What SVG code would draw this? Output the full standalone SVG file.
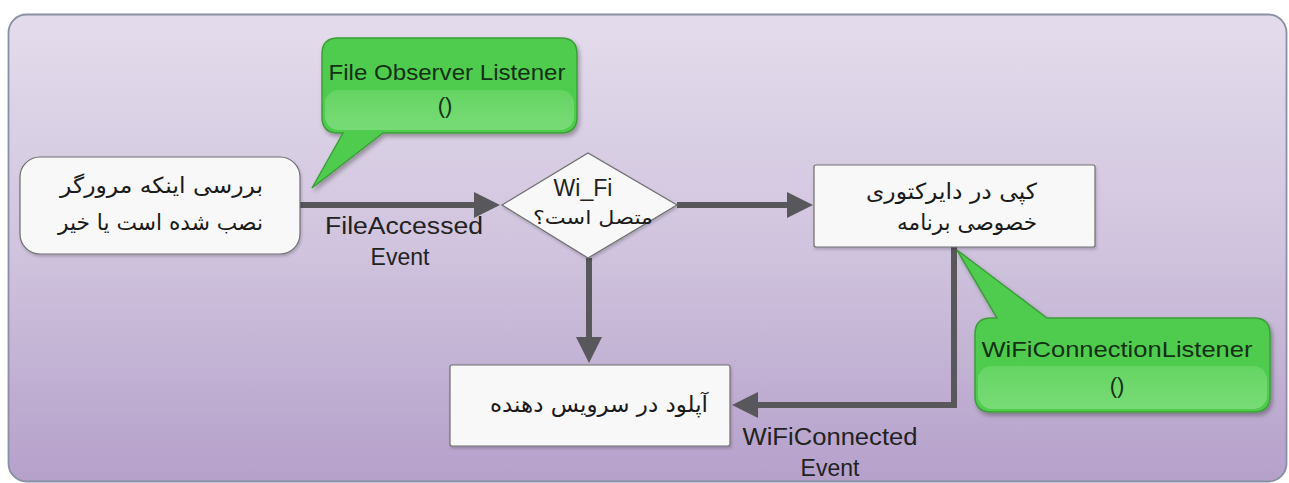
<svg xmlns="http://www.w3.org/2000/svg" width="1289" height="483" viewBox="0 0 1289 483">
  <defs>
    <linearGradient id="bg" x1="0" y1="0" x2="0" y2="1">
      <stop offset="0" stop-color="#e4dcec"/>
      <stop offset="0.5" stop-color="#d0c4de"/>
      <stop offset="1" stop-color="#b5a0ca"/>
    </linearGradient>
    <linearGradient id="glossGrad" x1="0" y1="0" x2="0" y2="1">
      <stop offset="0" stop-color="#a4eca2" stop-opacity="0.25"/>
      <stop offset="1" stop-color="#9ae898" stop-opacity="0.55"/>
    </linearGradient>
    <filter id="shadow" x="-10%" y="-10%" width="130%" height="140%">
      <feDropShadow dx="2" dy="3" stdDeviation="2" flood-color="#000" flood-opacity="0.3"/>
    </filter>
    <filter id="soft" x="-10%" y="-10%" width="130%" height="140%">
      <feDropShadow dx="1" dy="2" stdDeviation="1.5" flood-color="#000" flood-opacity="0.2"/>
    </filter>
    <marker id="arrow" markerUnits="userSpaceOnUse" markerWidth="26" markerHeight="26" refX="0" refY="13" orient="auto">
      <path d="M0,0 L26,13 L0,26 Z" fill="#58585c"/>
    </marker>
  </defs>
  <style>
    .node { fill: #f8f8f8; stroke: #6e6e6e; stroke-width: 1.2; }
    .fa { font-family: "DejaVu Sans", sans-serif; font-size: 22px; fill: #1a1a1a; }
    .fa-s { font-family: "DejaVu Sans", sans-serif; font-size: 19px; fill: #1a1a1a; }
    .lbl { font-family: "Liberation Sans", Arial, sans-serif; font-size: 23px; fill: #222; }
    .callout { fill: #50cc4e; stroke: #3c9e3a; stroke-width: 1.5; }
    .gloss { fill: url(#glossGrad); }
    .ctext { font-family: "Liberation Sans", Arial, sans-serif; font-size: 22px; fill: #143014; }
    .conn { fill: none; stroke: #58585c; stroke-width: 6; }
  </style>

  <rect id="background" x="8.5" y="14.5" width="1278" height="467" rx="18" fill="url(#bg)" stroke="#8890a4" stroke-width="1.8"/>

  <g id="connectors">
    <line class="conn" x1="300" y1="205" x2="474" y2="205" marker-end="url(#arrow)"/>
    <line class="conn" x1="677" y1="205" x2="787" y2="205" marker-end="url(#arrow)"/>
    <line class="conn" x1="589" y1="258" x2="589" y2="337" marker-end="url(#arrow)"/>
    <polyline class="conn" points="954,247 954,405 758,405" marker-end="url(#arrow)"/>
    <text class="lbl" x="404" y="234" text-anchor="middle" textLength="158" lengthAdjust="spacingAndGlyphs">FileAccessed</text>
    <text class="lbl" x="400" y="265" text-anchor="middle">Event</text>
    <text class="lbl" x="830" y="445" text-anchor="middle" textLength="175" lengthAdjust="spacingAndGlyphs">WiFiConnected</text>
    <text class="lbl" x="830" y="476" text-anchor="middle">Event</text>
  </g>

  <g id="node-check-browser">
    <rect class="node" x="20" y="157" width="280" height="97" rx="20" filter="url(#soft)"/>
    <text class="fa" x="263" y="193" text-anchor="end" textLength="203" lengthAdjust="spacingAndGlyphs">بررسی اینکه مرورگر</text>
    <text class="fa" x="263" y="230" text-anchor="end" textLength="205" lengthAdjust="spacingAndGlyphs">نصب شده است یا خیر</text>
  </g>

  <g id="node-wifi-decision">
    <polygon class="node" points="502,205 588,153 677,205 588,258" filter="url(#soft)"/>
    <text class="lbl" x="583" y="196" text-anchor="middle">Wi_Fi</text>
    <text class="fa-s" x="653" y="224" text-anchor="end" textLength="120" lengthAdjust="spacingAndGlyphs">متصل است؟</text>
  </g>

  <g id="node-copy">
    <rect class="node" x="814" y="165" width="281" height="82" rx="2" filter="url(#soft)"/>
    <text class="fa" x="1037" y="199" text-anchor="end" textLength="171" lengthAdjust="spacingAndGlyphs">کپی در دایرکتوری</text>
    <text class="fa" x="1037" y="230" text-anchor="end" textLength="140" lengthAdjust="spacingAndGlyphs">خصوصی برنامه</text>
  </g>

  <g id="node-upload">
    <rect class="node" x="450" y="365" width="280" height="81" rx="2" filter="url(#soft)"/>
    <text class="fa" x="708" y="412" text-anchor="end" textLength="218" lengthAdjust="spacingAndGlyphs">آپلود در سرویس دهنده</text>
  </g>

  <g id="callout-file-observer">
    <path class="callout" filter="url(#shadow)" d="M338,38 H561 Q577,38 577,54 V117 Q577,133 561,133 H383 L312,188 L343,133 H338 Q322,133 322,117 V54 Q322,38 338,38 Z"/>
    <rect class="gloss" x="325" y="90" width="249" height="40" rx="14"/>
    <text class="ctext" x="447" y="80" text-anchor="middle" textLength="237" lengthAdjust="spacingAndGlyphs">File Observer Listener</text>
    <text class="ctext" x="445" y="113" text-anchor="middle">()</text>
  </g>

  <g id="callout-wifi-listener">
    <path class="callout" filter="url(#shadow)" d="M991,318 H997 L957,250 L1047,318 H1254 Q1270,318 1270,334 V396 Q1270,412 1254,412 H991 Q975,412 975,396 V334 Q975,318 991,318 Z"/>
    <rect class="gloss" x="978" y="366" width="289" height="43" rx="14"/>
    <text class="ctext" x="1117" y="357" text-anchor="middle" textLength="271" lengthAdjust="spacingAndGlyphs">WiFiConnectionListener</text>
    <text class="ctext" x="1117" y="393" text-anchor="middle">()</text>
  </g>
</svg>
